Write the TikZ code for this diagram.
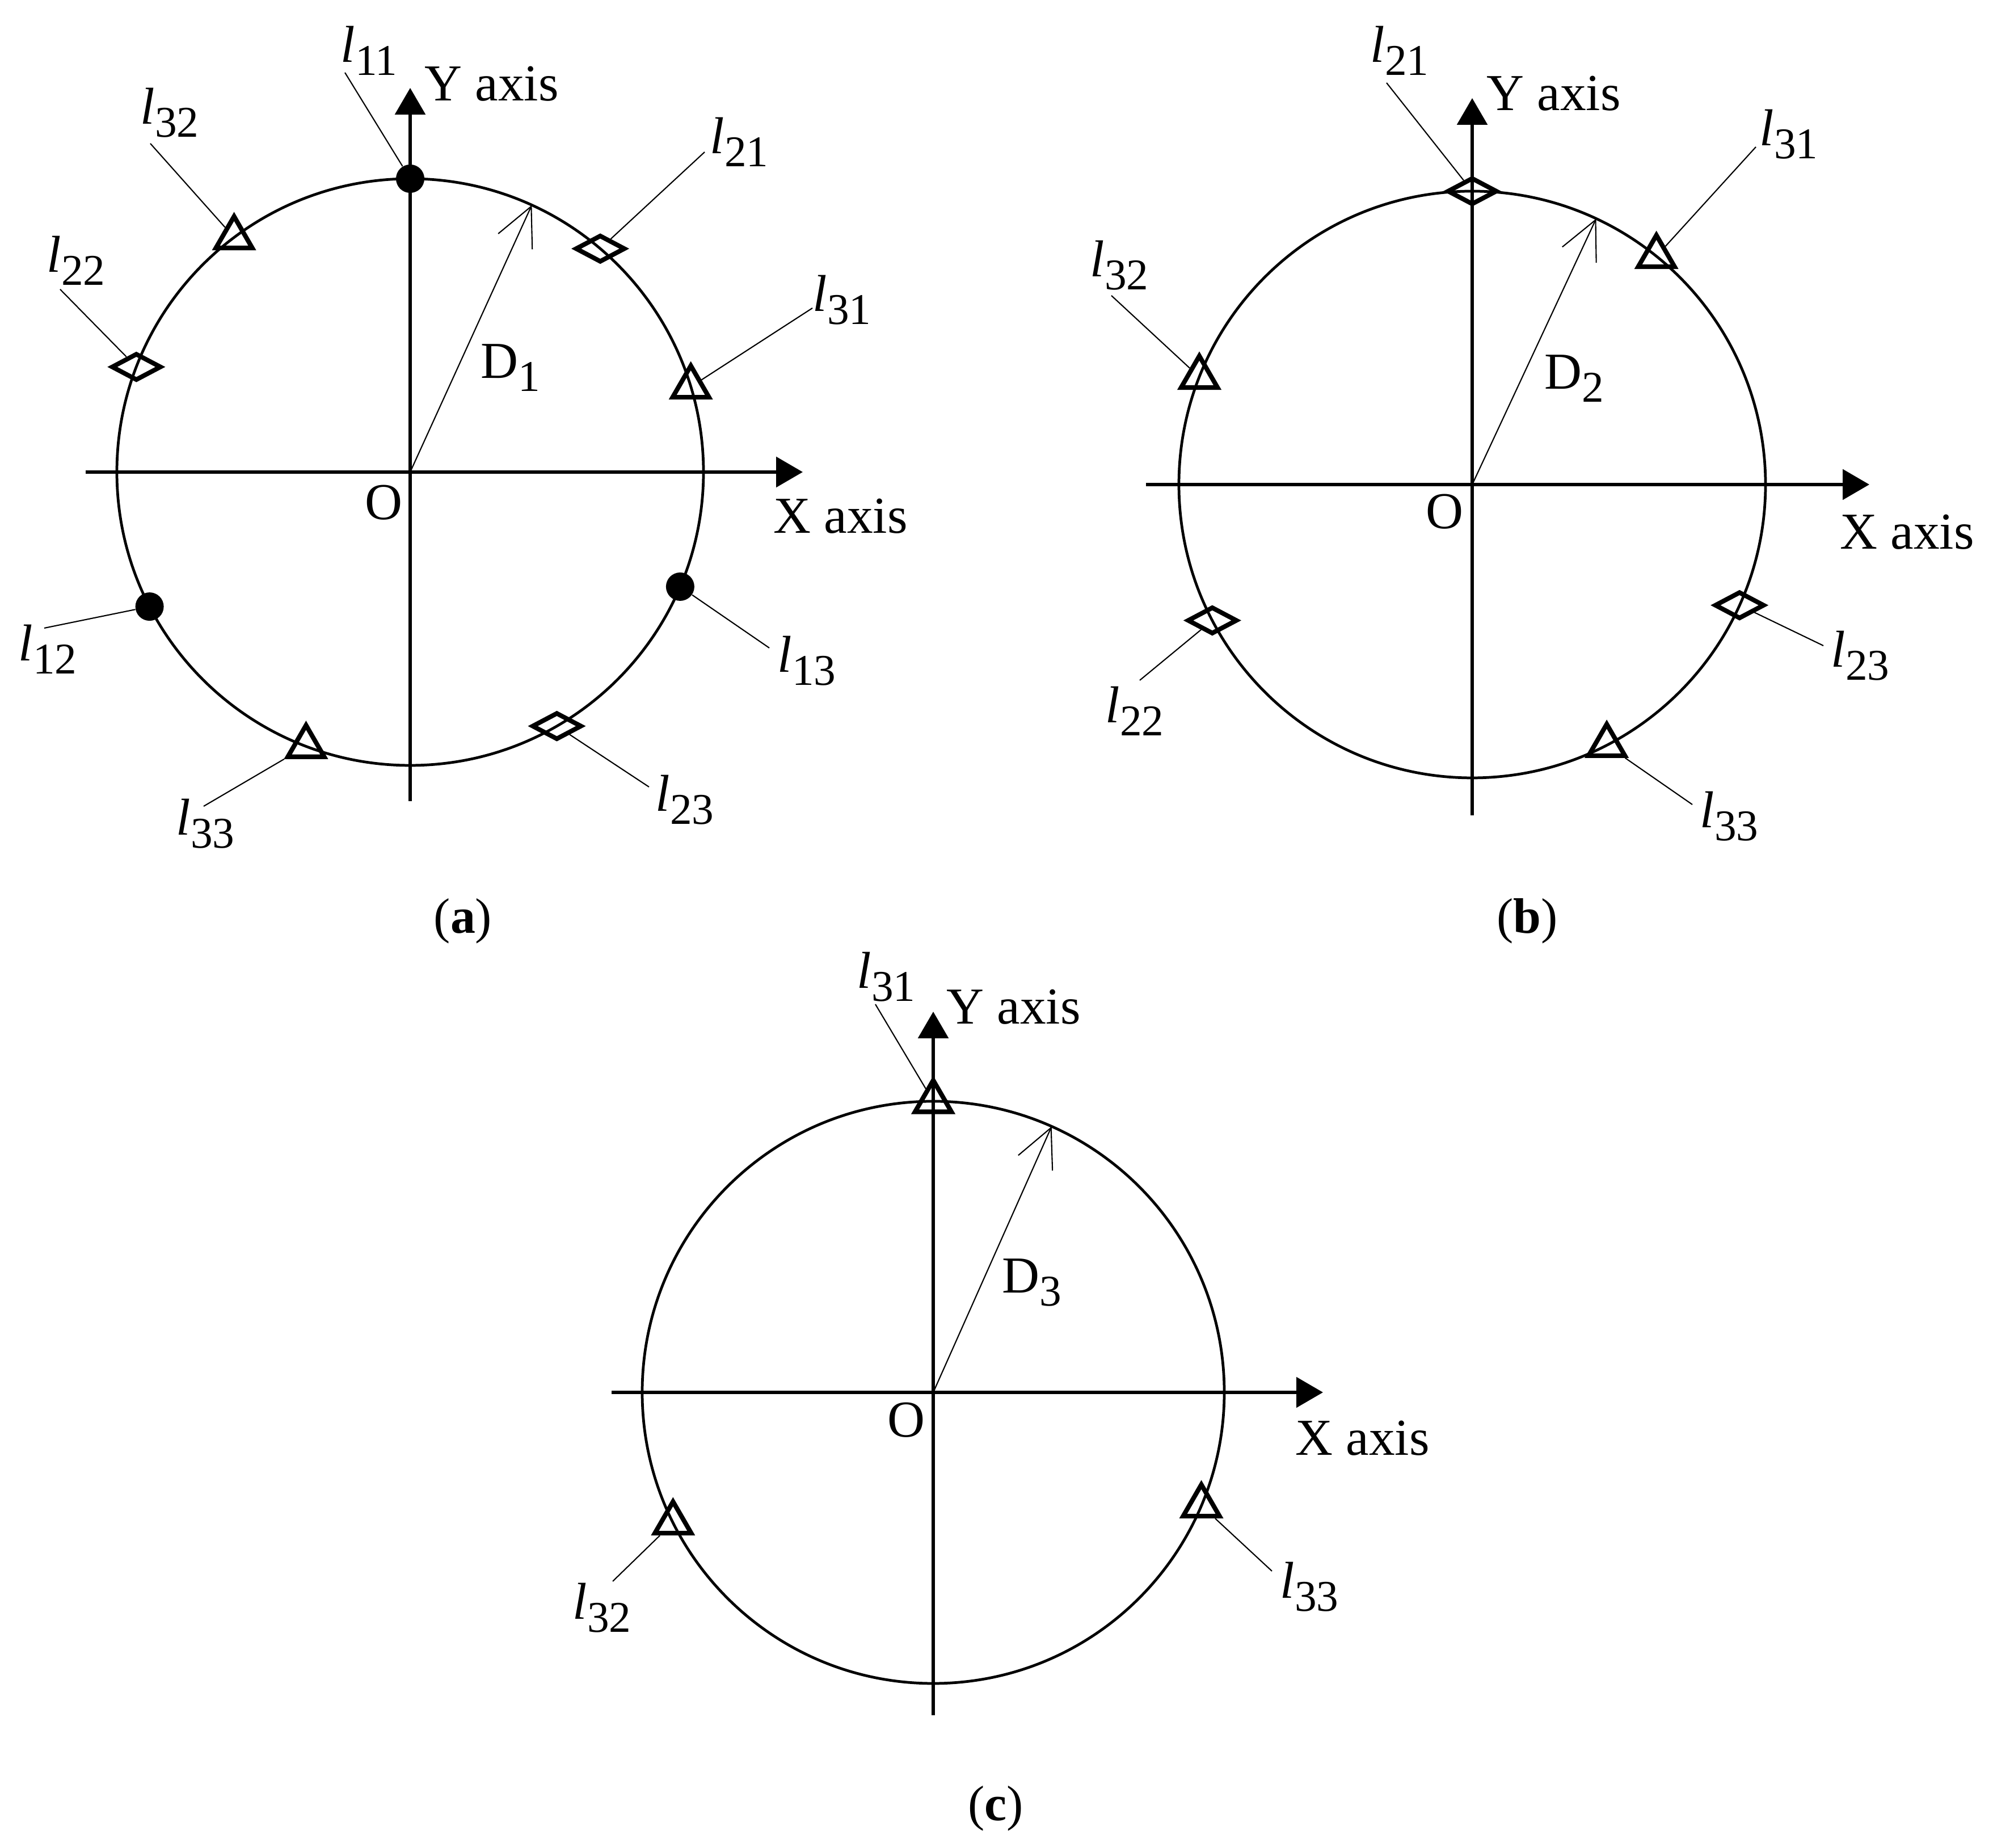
\documentclass[tikz,border=0pt]{standalone}
\usepackage{fontspec}
\setmainfont{Liberation Serif}
\usetikzlibrary{shapes.geometric}
\usetikzlibrary{arrows.meta}
\usetikzlibrary{calc}

\newcommand{\lblsize}{\fontsize{26}{31}\selectfont}
\newcommand{\subsize}{\fontsize{22}{26}\selectfont}
\newcommand{\lbl}[1]{\textit{l}\raisebox{-0.25em}{\subsize #1}}
\newcommand{\dlbl}[1]{D\raisebox{-0.25em}{\subsize #1}}

\tikzset{
  ring/.style={line width=1.35pt},
  axis/.style={line width=1.7pt, -{Triangle[length=0.47cm,width=0.53cm]}},
  darrow/.style={line width=0.6pt, -{Straight Barb[length=0.68cm,width=0.66cm]}},
  leader/.style={line width=0.6pt},
  dotmark/.style={circle, fill=black, inner sep=0, minimum size=0.5cm},
  trimark/.style={regular polygon, regular polygon sides=3, draw, line width=2.3pt, inner sep=0, minimum size=0.74cm},
  diamark/.style={diamond, draw, line width=2.3pt, inner sep=0, minimum width=0.88cm, minimum height=0.48cm},
  lab/.style={inner sep=0, anchor=base west, font=\lblsize},
  captext/.style={inner sep=0, font=\fontsize{25}{30}\selectfont}
}

\begin{document}
\begin{tikzpicture}
  \useasboundingbox (0,0) rectangle (35.13,32.57);

  % (a)
  \begin{scope}[shift={(7.23,24.25)}]
    \draw[ring] (0,0) circle (5.17);
    \draw[axis] (-5.72,0) -- (6.92,0);
    \draw[axis] (0,-5.8) -- (0,6.77);
    \coordinate (Oa) at (0,0);
    \coordinate (Da) at (65.5:5.17);
    \draw[darrow] (Oa) -- (Da);

    \node[lab] (xa) at (6.40,-1.08) {X axis};
    \node[lab] (ya) at (0.25,6.54) {Y axis};
    \node[lab] (oa) at (-0.80,-0.84) {O};
    \node[lab] (da) at (1.24,1.65) {\dlbl{1}};

    \node[dotmark] (m11a) at (90:5.17) {};
    \node[dotmark] (m12a) at (207.3:5.17) {};
    \node[dotmark] (m13a) at (-23:5.17) {};
    \node[diamark] (m21a) at (49.6:5.17) {};
    \node[diamark] (m22a) at (159:5.17) {};
    \node[diamark] (m23a) at (-60:5.17) {};
    \node[trimark] (m31a) at (16.9:5.17) {};
    \node[trimark] (m32a) at (126.9:5.17) {};
    \node[trimark] (m33a) at (249.2:5.17) {};

    \node[lab] (l11a) at (-1.23,7.22) {\lbl{11}};
    \node[lab] (l32a) at (-4.76,6.13) {\lbl{32}};
    \node[lab] (l22a) at (-6.41,3.52) {\lbl{22}};
    \node[lab] (l12a) at (-6.91,-3.33) {\lbl{12}};
    \node[lab] (l33a) at (-4.13,-6.40) {\lbl{33}};
    \node[lab] (l21a) at (5.28,5.61) {\lbl{21}};
    \node[lab] (l31a) at (7.09,2.83) {\lbl{31}};
    \node[lab] (l13a) at (6.47,-3.53) {\lbl{13}};
    \node[lab] (l23a) at (4.32,-5.98) {\lbl{23}};

    \draw[leader] ([shift={(0.08,-0.18)}]l11a.base west) -- (m11a);
    \draw[leader] ([shift={(0.18,-0.34)}]l32a.base west) -- (m32a);
    \draw[leader] ([shift={(0.24,-0.30)}]l22a.base west) -- (m22a);
    \draw[leader] ([shift={(0.46,0.58)}]l12a.base west) -- (m12a);
    \draw[leader] ([shift={(0.49,0.51)}]l33a.base west) -- (m33a);
    \draw[leader] ([shift={(-0.09,0.03)}]l21a.base west) -- (m21a);
    \draw[leader] ([shift={(0,0.06)}]l31a.base west) -- (m31a);
    \draw[leader] ([shift={(-0.14,0.43)}]l13a.base west) -- (m13a);
    \draw[leader] ([shift={(-0.11,0.43)}]l23a.base west) -- (m23a);
  \end{scope}

  % (b)
  \begin{scope}[shift={(25.95,24.03)}]
    \draw[ring] (0,0) circle (5.17);
    \draw[axis] (-5.75,0) -- (7.0,0);
    \draw[axis] (0,-5.83) -- (0,6.81);
    \coordinate (Ob) at (0,0);
    \coordinate (Db) at (65:5.17);
    \draw[darrow] (Ob) -- (Db);

    \node[lab] (xb) at (6.48,-1.14) {X axis};
    \node[lab] (yb) at (0.25,6.59) {Y axis};
    \node[lab] (ob) at (-0.82,-0.78) {O};
    \node[lab] (db) at (1.27,1.68) {\dlbl{2}};

    \node[diamark] (m21b) at (90:5.17) {};
    \node[diamark] (m22b) at (207.6:5.17) {};
    \node[diamark] (m23b) at (-24.3:5.17) {};
    \node[trimark] (m31b) at (51.1:5.17) {};
    \node[trimark] (m32b) at (158.5:5.17) {};
    \node[trimark] (m33b) at (297.3:5.17) {};

    \node[lab] (l21b) at (-1.80,7.44) {\lbl{21}};
    \node[lab] (l31b) at (5.06,5.97) {\lbl{31}};
    \node[lab] (l32b) at (-6.74,3.66) {\lbl{32}};
    \node[lab] (l22b) at (-6.47,-4.20) {\lbl{22}};
    \node[lab] (l23b) at (6.32,-3.22) {\lbl{23}};
    \node[lab] (l33b) at (4.01,-6.05) {\lbl{33}};

    \draw[leader] ([shift={(0.29,-0.36)}]l21b.base west) -- (m21b);
    \draw[leader] ([shift={(-0.06,-0.02)}]l31b.base west) -- (m31b);
    \draw[leader] ([shift={(0.38,-0.33)}]l32b.base west) -- (m32b);
    \draw[leader] ([shift={(0.61,0.75)}]l22b.base west) -- (m22b);
    \draw[leader] ([shift={(-0.13,0.38)}]l23b.base west) -- (m23b);
    \draw[leader] ([shift={(-0.13,0.41)}]l33b.base west) -- (m33b);
  \end{scope}

  % (c)
  \begin{scope}[shift={(16.45,8.03)}]
    \draw[ring] (0,0) circle (5.13);
    \draw[axis] (-5.67,0) -- (6.87,0);
    \draw[axis] (0,-5.69) -- (0,6.71);
    \coordinate (Oc) at (0,0);
    \coordinate (Dc) at (66:5.13);
    \draw[darrow] (Oc) -- (Dc);

    \node[lab] (xc) at (6.38,-1.11) {X axis};
    \node[lab] (yc) at (0.23,6.49) {Y axis};
    \node[lab] (oc) at (-0.81,-0.79) {O};
    \node[lab] (dc) at (1.21,1.75) {\dlbl{3}};

    \node[trimark] (m31c) at (90:5.13) {};
    \node[trimark] (m32c) at (206.6:5.13) {};
    \node[trimark] (m33c) at (-22.9:5.13) {};

    \node[lab] (l31c) at (-1.35,7.12) {\lbl{31}};
    \node[lab] (l32c) at (-6.36,-4.00) {\lbl{32}};
    \node[lab] (l33c) at (6.11,-3.63) {\lbl{33}};

    \draw[leader] ([shift={(0.33,-0.28)}]l31c.base west) -- (m31c);
    \draw[leader] ([shift={(0.71,0.67)}]l32c.base west) -- (m32c);
    \draw[leader] ([shift={(-0.14,0.48)}]l33c.base west) -- (m33c);
  \end{scope}

  \node[captext] (capa) at (8.16,16.34) {(\textbf{a})};
  \node[captext] (capb) at (26.92,16.34) {(\textbf{b})};
  \node[captext] (capc) at (17.55,0.70) {(\textbf{c})};
\end{tikzpicture}
\end{document}
